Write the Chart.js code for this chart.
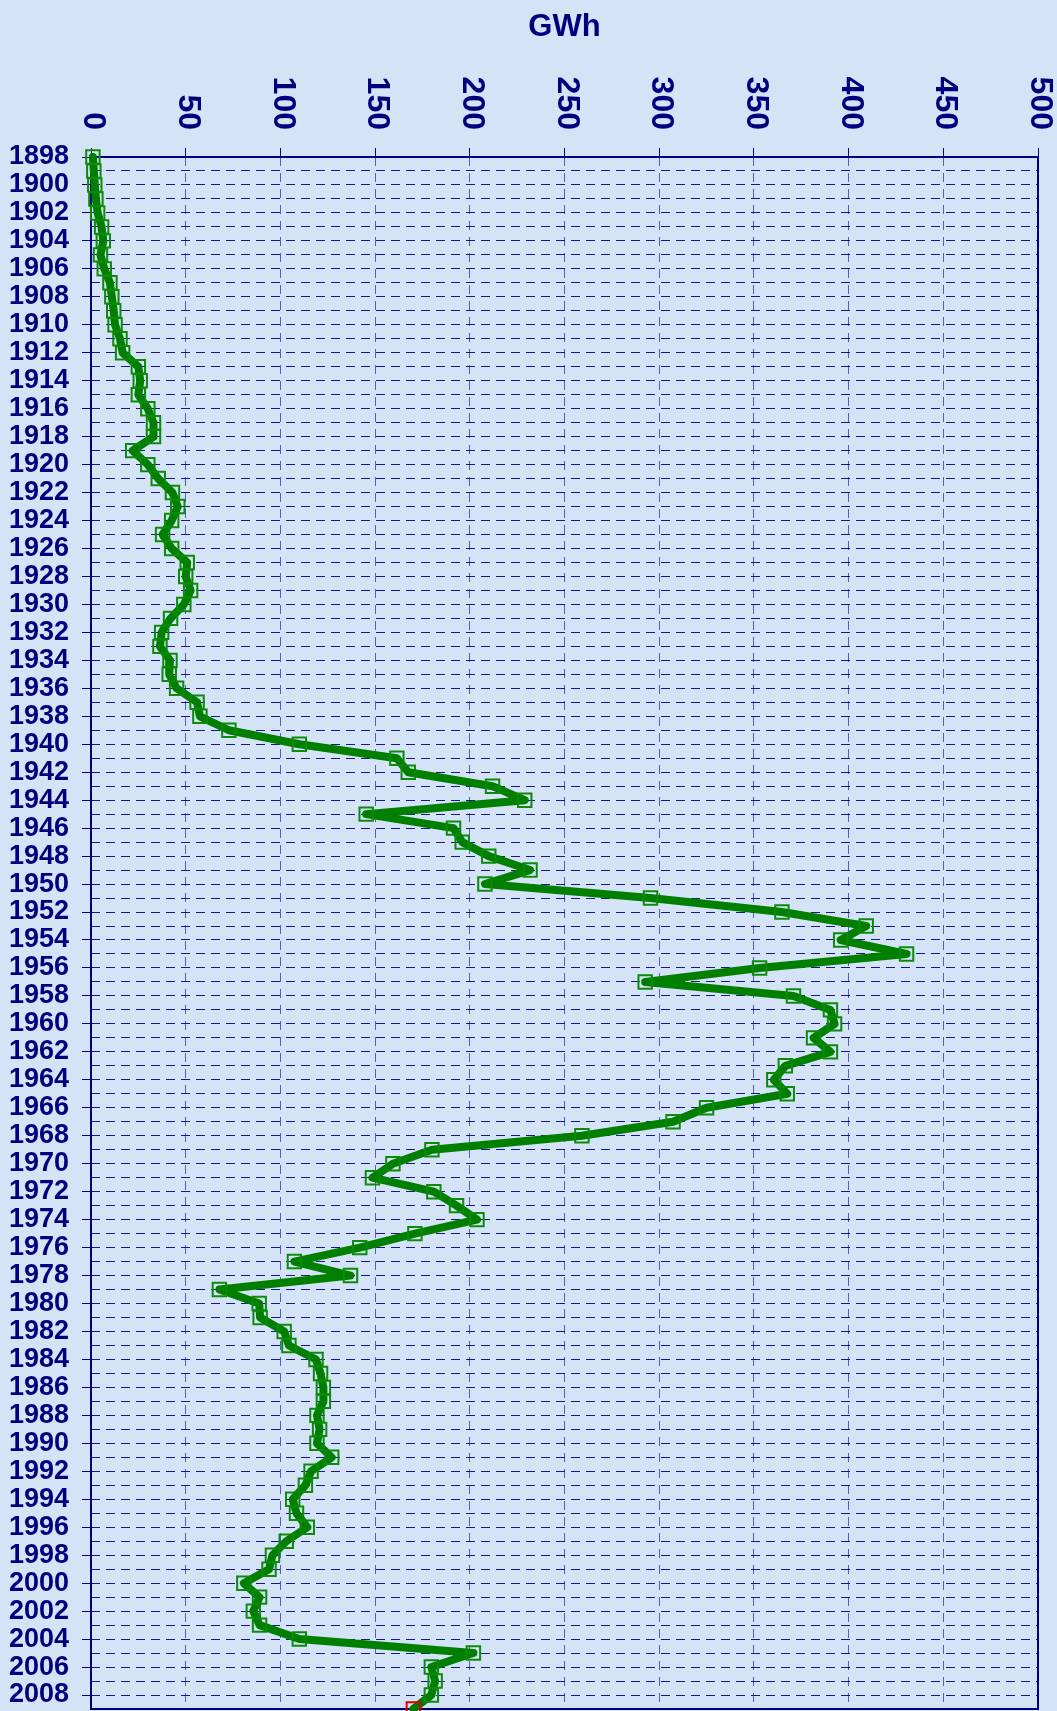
<!DOCTYPE html>
<html>
<head>
<meta charset="utf-8">
<title>GWh</title>
<script src="https://cdn.jsdelivr.net/npm/chart.js@4.4.1/dist/chart.umd.min.js"></script>
<style>
  html, body { margin: 0; padding: 0; background: #d4e4f6; overflow: hidden; }
  #wrap { position: relative; width: 1057px; height: 1711px; }
</style>
</head>
<body>
<div id="wrap"><canvas id="gwhChart"></canvas></div>
<script>
// years 1898 - 2009
const firstYear = 1898;
const lastYear = 2009;
const years = [];
for (let y = firstYear; y <= lastYear; y++) years.push(String(y));

// GWh per year
const gwh = [
    1, 1.5, 2, 2.6, 3.5, 5.6, 6.5, 5, 7, 10,              // 1898-1907
    11, 12, 12.7, 15.3, 16.7, 25, 26, 25, 30, 33,          // 1908-1917
    33, 22, 30, 35.5, 43, 45.8, 42.6, 37.8, 42.6, 50.8,    // 1918-1927
    50, 52.6, 49, 42, 37.3, 36.4, 41.7, 41.3, 45.2, 56,    // 1928-1937
    57.5, 72.8, 110, 161.5, 167.5, 212, 229, 145.3, 191.4, 196,   // 1938-1947
    210, 231.8, 208, 295.4, 364.8, 409.3, 395.8, 430.6, 353, 292.6, // 1948-1957
    370.9, 390.4, 392.6, 381.5, 390.4, 366.6, 360.5, 367.6, 325, 307.3, // 1958-1967
    259.2, 180, 159.4, 148.6, 181, 193, 203.8, 171, 141.9, 107.4,  // 1968-1977
    137, 67.8, 88.8, 89.3, 102, 104.5, 118.8, 121.2, 122.7, 122.7, // 1978-1987
    119.3, 120.7, 119.3, 127.1, 116.2, 113.2, 106.5, 108.5, 114.2, 103.1, // 1988-1997
    95.8, 94, 80.7, 89, 85.7, 89, 110, 201.9, 179.7, 181.7,        // 1998-2007
    179.7, 170.2                                                   // 2008-2009
];

const xTicks = [0, 50, 100, 150, 200, 250, 300, 350, 400, 450, 500];

const NAVY = '#00007f';
const GREEN = '#007f00';
const BG = '#d4e4f6';

// last point gets the red marker
const markerColors = gwh.map((v, i) => i === gwh.length - 1 ? '#e00000' : '#0b8a0b');

const framePlugin = {
    id: 'frameAndLabels',
    beforeDraw(chart) {
        const ctx = chart.ctx;
        ctx.save();
        ctx.fillStyle = BG;
        ctx.fillRect(0, 0, chart.width, chart.height);
        ctx.restore();
    },
    beforeDatasetsDraw(chart) {
        const {ctx, chartArea: a} = chart;
        ctx.save();
        ctx.strokeStyle = NAVY;
        ctx.lineWidth = 2;
        ctx.strokeRect(a.left, a.top, a.right - a.left, a.bottom - a.top);
        ctx.restore();
    },
    afterDraw(chart) {
        // value labels on the top axis, turned to read downwards
        const ctx = chart.ctx;
        const xs = chart.scales.x;
        ctx.save();
        ctx.fillStyle = NAVY;
        ctx.font = 'bold 32px "Liberation Sans", Arial, sans-serif';
        ctx.textAlign = 'right';
        ctx.textBaseline = 'middle';
        xTicks.forEach(v => {
            const px = xs.getPixelForValue(v);
            ctx.save();
            ctx.translate(px + 2, 130);
            ctx.rotate(Math.PI / 2);
            ctx.fillText(String(v), 0, 0);
            ctx.restore();
        });
        ctx.restore();
    }
};

new Chart(document.getElementById('gwhChart'), {
    type: 'line',
    data: {
        labels: years,
        datasets: [{
            label: 'GWh',
            data: gwh,
            borderColor: GREEN,
            borderWidth: 8,
            borderJoinStyle: 'round',
            borderCapStyle: 'round',
            tension: 0,
            fill: false,
            pointStyle: 'rect',
            pointRadius: 9.5,
            pointHoverRadius: 9.5,
            pointBorderWidth: 2,
            pointBorderColor: markerColors,
            pointBackgroundColor: 'rgba(0,0,0,0)',
            clip: false
        }]
    },
    plugins: [framePlugin],
    options: {
        indexAxis: 'y',
        responsive: true,
        maintainAspectRatio: false,
        animation: false,
        layout: {
            autoPadding: false,
            padding: { top: 0, left: 0, right: 19, bottom: 2 }
        },
        plugins: {
            legend: { display: false },
            tooltip: { enabled: false }
        },
        scales: {
            x: {
                type: 'linear',
                position: 'top',
                min: 0,
                max: 500,
                ticks: { stepSize: 50, display: false },
                grid: {
                    color: 'rgba(40,50,160,0.75)',
                    lineWidth: 1,
                    tickLength: 9,
                    tickColor: NAVY
                },
                border: { display: false, dash: [9, 7] },
                title: {
                    display: true,
                    text: 'GWh',
                    color: NAVY,
                    font: { family: '"Liberation Sans", Arial, sans-serif', size: 31, weight: 'bold' },
                    padding: { top: 9, bottom: 0 }
                },
                afterFit(scale) {
                    scale.height = 157;
                    scale.paddingLeft = 0;
                    scale.paddingRight = 0;
                }
            },
            y: {
                type: 'category',
                offset: false,
                ticks: {
                    autoSkip: false,
                    padding: 13,
                    color: NAVY,
                    font: { family: '"Liberation Sans", Arial, sans-serif', size: 27, weight: 'bold' },
                    callback: function (val, i) { return i % 2 === 0 ? years[i] : ''; }
                },
                grid: {
                    color: 'rgba(0,0,128,0.9)',
                    lineWidth: 1,
                    tickLength: 9,
                    tickColor: ctx => ctx.index % 2 === 0 ? NAVY : 'rgba(0,0,0,0)'
                },
                border: { display: false, dash: [9, 6] },
                afterFit(scale) {
                    scale.width = 91;
                    scale.paddingTop = 0;
                    scale.paddingBottom = 0;
                }
            }
        }
    }
});
</script>
</body>
</html>
